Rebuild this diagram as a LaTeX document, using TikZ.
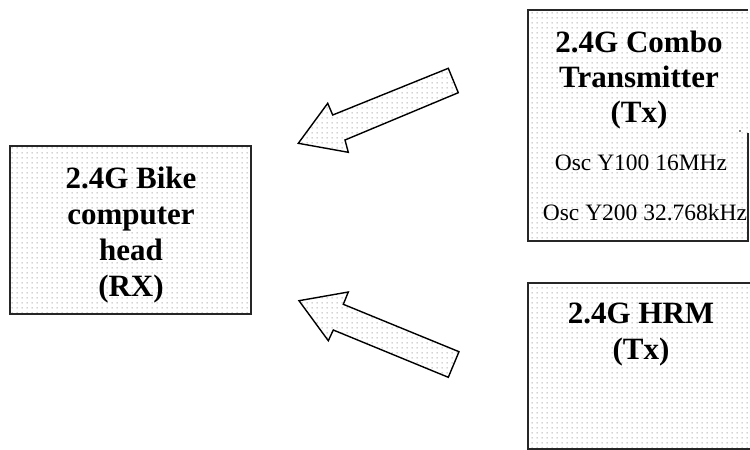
\documentclass[tikz,border=0pt]{standalone}
\usepackage{fontspec}
\setmainfont{Liberation Serif}
\usetikzlibrary{patterns}
\pgfdeclarepatternformonly{smalldots}{\pgfpointorigin}{\pgfpoint{5pt}{5pt}}{\pgfpoint{5pt}{5pt}}{\pgfpathrectangle{\pgfpoint{2pt}{2pt}}{\pgfpoint{1pt}{1pt}}\pgfusepath{fill}}
\begin{document}
\begin{tikzpicture}[x=1pt,y=-1pt,
  boxfill/.style={draw=none, pattern=smalldots, pattern color=black!40, inner sep=0pt},
  boxborder/.style={draw=black!85, line width=2.2pt, line join=miter},
  blockarrow/.style={draw=black, line width=1.4pt, line join=miter, pattern=smalldots, pattern color=black!40},
  titletext/.style={font=\fontsize{31}{36}\selectfont\bfseries, anchor=base, inner sep=0pt},
  osctext/.style={font=\fontsize{23.5}{28}\selectfont, anchor=base, inner sep=0pt}]
\useasboundingbox (0,0) rectangle (750,450);
\clip (0,0) rectangle (750,450);
\fill[white] (0,0) rectangle (750,450);

% left box (receiver)
\node[boxfill, boxborder, minimum width=241pt, minimum height=168pt] (rx) at (130.5,230) {};
\node[titletext] (rx1) at (131,188) {2.4G Bike};
\node[titletext] (rx2) at (131,224) {computer};
\node[titletext] (rx3) at (131,260) {head};
\node[titletext] (rx4) at (131,296) {(RX)};

% top right box (combo transmitter)
\node[boxfill, minimum width=220pt, minimum height=231pt] (combo) at (638,125.5) {};
\draw[boxborder] (combo.north east) -- (combo.north west) -- (combo.south west) -- (combo.south east) -- ++(0,-108);
\fill[black] (740,131) circle (0.8pt);
\node[titletext] (co1) at (639,52) {2.4G Combo};
\node[titletext] (co2) at (639,87) {Transmitter};
\node[titletext] (co3) at (639,122) {(Tx)};
\node[osctext] (co4) at (641,170) {Osc Y100 16MHz};
\node[osctext] (co5) at (645,220) {Osc Y200 32.768kHz};

% bottom right box (HRM)
\node[boxfill, boxborder, minimum width=232pt, minimum height=166pt] (hrm) at (644,366) {};
\node[titletext] (hr1) at (641,323) {2.4G HRM};
\node[titletext] (hr2) at (641,359) {(Tx)};

% block arrows
\draw[blockarrow] (298.3,143.3) -- (327.7,103.3) -- (332.7,115) -- (448.3,68.3) -- (458.3,92.7) -- (345,140) -- (348.3,152.3) -- cycle;
\draw[blockarrow] (299,300.7) -- (348.3,292) -- (343.3,304.3) -- (459,351.7) -- (448.3,377.3) -- (333.3,330) -- (328.3,340.7) -- cycle;
\end{tikzpicture}
\end{document}
